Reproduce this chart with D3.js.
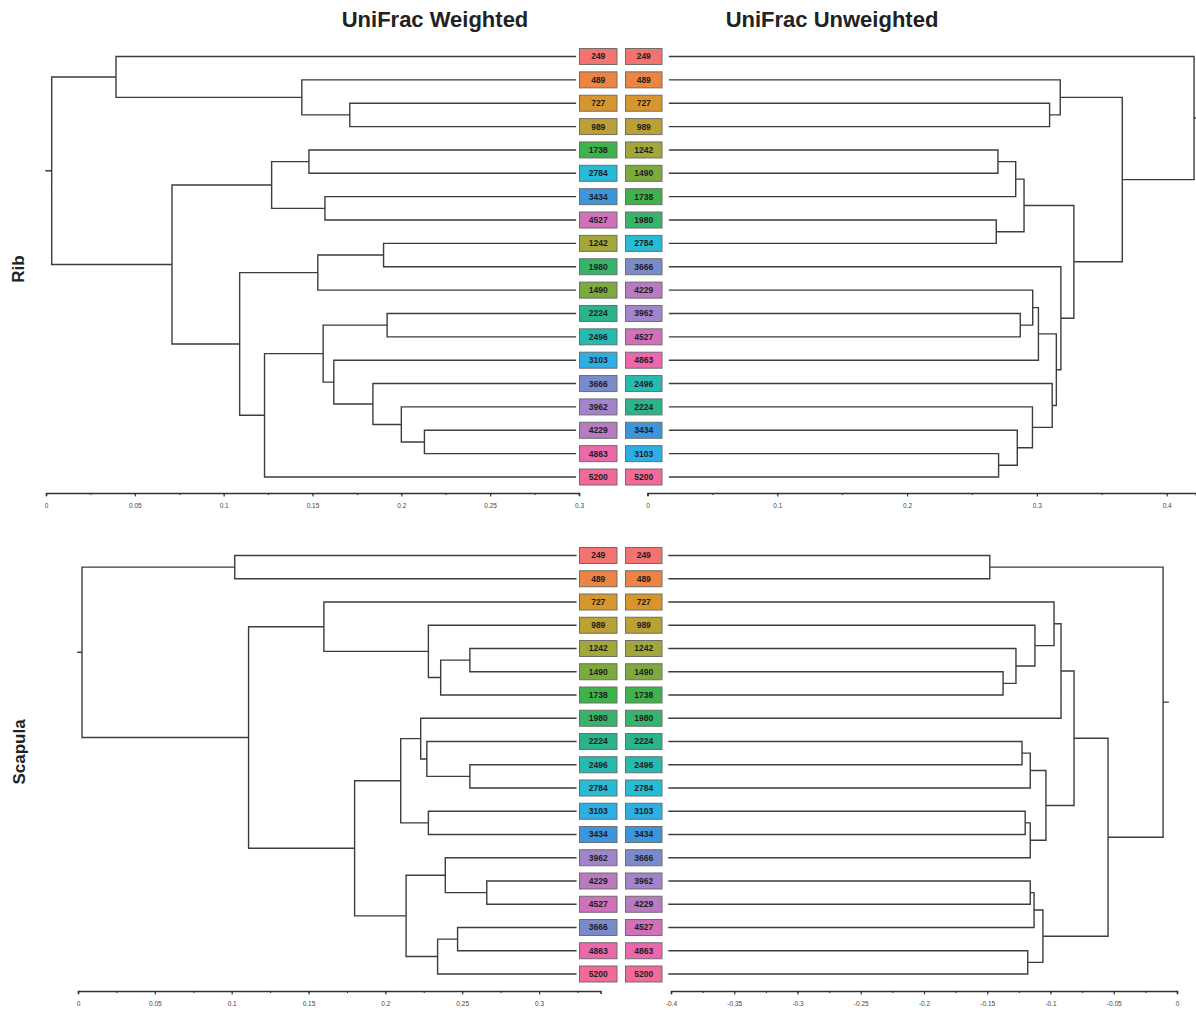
<!DOCTYPE html>
<html>
<head>
<meta charset="utf-8">
<script src="https://cdn.jsdelivr.net/npm/d3@7"></script>
<style>
  body { margin: 0; background: #fff; }
  svg { display: block; }
  text { font-family: "Liberation Sans", Arial, Helvetica, sans-serif; }
</style>
</head>
<body>
<svg id="chart" width="1196" height="1010"></svg>
<script>
// Samples (accumulated degree days) and their label colours
const samples = ["249", "489", "727", "989", "1242", "1490", "1738", "1980", "2224", "2496",
                 "2784", "3103", "3434", "3666", "3962", "4229", "4527", "4863", "5200"];
const sampleColors = ["#F2736F", "#EB8541", "#D7962D", "#BBA035", "#A2A63B", "#7DAA3D", "#3EB24B",
                      "#37B36B", "#2BB38B", "#27BAAE", "#26BCD5", "#2DAEE4", "#3D95DA", "#7B8ACA",
                      "#A184CA", "#B87BC0", "#D071BA", "#EB68AB", "#F2699A"];

// Dendrograms as nested [nodeHeight, child, child]; leaves are sample names.
const ribWeighted = [0.0032,
  [0.0394, "249", [0.144, "489", [0.171, "727", "989"]]],
  [0.0709,
    [0.127, [0.148, "1738", "2784"], [0.157, "3434", "4527"]],
    [0.109,
      [0.153, [0.190, "1242", "1980"], "1490"],
      [0.123,
        [0.156, [0.192, "2224", "2496"],
                [0.162, "3103", [0.184, "3666", [0.200, "3962", [0.213, "4229", "4863"]]]]],
        "5200"]]]];

const ribUnweighted = [0.4211, "249",
  [0.3658,
    [0.318, "489", [0.3098, "727", "989"]],
    [0.3285,
      [0.2901, [0.2837, [0.270, "1242", "1490"], "1738"], [0.2687, "1980", "2784"]],
      [0.3185, "3666",
        [0.315,
          [0.3012, [0.2968, "4229", [0.2872, "3962", "4527"]], "4863"],
          [0.3118, "2496", [0.2966, "2224", [0.2849, "3434", [0.2705, "3103", "5200"]]]]]]]]];

const scapulaWeighted = [0.0026,
  [0.102, "249", "489"],
  [0.111,
    [0.160, "727", [0.228, "989", [0.236, [0.255, "1242", "1490"], "1738"]]],
    [0.180,
      [0.210, [0.223, "1980", [0.227, "2224", [0.255, "2496", "2784"]]], [0.228, "3103", "3434"]],
      [0.2135, [0.239, "3962", [0.266, "4229", "4527"]], [0.234, [0.247, "3666", "4863"], "5200"]]]]];

const scapulaUnweighted = [-0.011,
  [-0.148, "249", "489"],
  [-0.0545,
    [-0.0814,
      [-0.0917, [-0.0972, "727", [-0.1123, "989", [-0.1273, "1242", [-0.1375, "1490", "1738"]]]], "1980"],
      [-0.1036, [-0.116, [-0.1225, "2224", "2496"], "2784"], [-0.116, [-0.120, "3103", "3434"], "3666"]]],
    [-0.106, [-0.113, [-0.116, "3962", "4229"], "4527"], [-0.118, "4863", "5200"]]]];

// Axis tick labels
const ribWeightedTicks = [0, 0.05, 0.1, 0.15, 0.2, 0.25, 0.3];
const ribUnweightedTicks = [0, 0.1, 0.2, 0.3, 0.4];
const scapulaWeightedTicks = [0, 0.05, 0.1, 0.15, 0.2, 0.25, 0.3];
const scapulaUnweightedTicks = [-0.4, -0.35, -0.3, -0.25, -0.2, -0.15, -0.1, -0.05, 0];

const columnTitles = ["UniFrac Weighted", "UniFrac Unweighted"];
const rowTitles = ["Rib", "Scapula"];

const color = d3.scaleOrdinal().domain(samples).range(sampleColors);
const svg = d3.select("#chart");
svg.append("rect").attr("width", 1196).attr("height", 1010).attr("fill", "#fff");

const panels = [
  { tree: ribWeighted, side: "left", leafH: 0.298, stubH: 0,
    domain: [0, 0.3], range: [46, 579], ticks: ribWeightedTicks, minorStep: 0.025,
    leafY: [56.5, 477], axisY: 493 },
  { tree: ribUnweighted, side: "right", leafH: 0.017, stubH: 0.4226,
    domain: [0, 0.4226], range: [647.5, 1196], ticks: ribUnweightedTicks, minorStep: 0.05,
    leafY: [56.5, 477], axisY: 493 },
  { tree: scapulaWeighted, side: "left", leafH: 0.324, stubH: 0,
    domain: [0, 0.34], range: [78, 600.5], ticks: scapulaWeightedTicks, minorStep: 0.025,
    leafY: [555.5, 974], axisY: 991 },
  { tree: scapulaUnweighted, side: "right", leafH: -0.4016, stubH: -0.007,
    domain: [-0.4, 0], range: [671, 1177], ticks: scapulaUnweightedTicks, minorStep: 0.025,
    leafY: [555.5, 974], axisY: 991 }
];

function leafOrder(node, out = []) {
  if (typeof node === "string") out.push(node);
  else node.slice(1).forEach(c => leafOrder(c, out));
  return out;
}

function build(node, yScale, leafH) {
  if (typeof node === "string") return { name: node, h: leafH, y: yScale(node) };
  const children = node.slice(1).map(c => build(c, yScale, leafH));
  return { h: node[0], children, y: d3.mean(children, c => c.y) };
}

const fmt = v => String(+v.toFixed(3));

panels.forEach(p => {
  const x = d3.scaleLinear().domain(p.domain).range(p.range);
  const order = leafOrder(p.tree);
  const y = d3.scalePoint().domain(order).range(p.leafY);
  const root = build(p.tree, y, p.leafH);

  // Elbow links
  const path = d3.path();
  (function walk(n) {
    if (!n.children) return;
    const ys = n.children.map(c => c.y);
    path.moveTo(x(n.h), d3.min(ys));
    path.lineTo(x(n.h), d3.max(ys));
    n.children.forEach(c => {
      path.moveTo(x(n.h), c.y);
      path.lineTo(x(c.h), c.y);
      walk(c);
    });
  })(root);
  path.moveTo(x(p.stubH), root.y);
  path.lineTo(x(root.h), root.y);

  svg.append("path")
    .attr("d", path.toString())
    .attr("fill", "none")
    .attr("stroke", "#3d3d3d")
    .attr("stroke-width", 1.4)
    .attr("stroke-linecap", "square");

  // Leaf label boxes
  const bx = p.side === "left" ? 579.5 : 625.5;
  const bw = p.side === "left" ? 37.5 : 36.5;
  const g = svg.append("g").selectAll("g").data(order).join("g")
    .attr("transform", d => `translate(${bx},${y(d)})`);
  g.append("rect")
    .attr("x", 0).attr("y", -8).attr("width", bw).attr("height", 16)
    .attr("fill", d => color(d))
    .attr("stroke", "#6e6e6e").attr("stroke-width", 1);
  g.append("text")
    .attr("x", bw / 2).attr("y", 0).attr("dy", "0.35em")
    .attr("text-anchor", "middle")
    .attr("font-size", 8.5).attr("font-weight", "bold")
    .attr("fill", "#1e1e1e")
    .text(d => d);

  // Axis: minor ticks then labelled major ticks
  const minor = d3.range(p.ticks[0], p.domain[1] + 1e-9, p.minorStep);
  const ax = svg.append("g").attr("transform", `translate(0,${p.axisY})`);
  ax.call(d3.axisBottom(x).tickValues(minor).tickSize(2).tickSizeOuter(3).tickFormat(""));
  ax.append("g").call(d3.axisBottom(x).tickValues(p.ticks).tickSize(3.5).tickSizeOuter(3)
      .tickPadding(7).tickFormat(fmt))
    .call(a => a.select(".domain").remove());
  ax.selectAll("path.domain").attr("stroke", "#333").attr("stroke-width", 1.6);
  ax.selectAll(".tick line").attr("stroke", "#333").attr("stroke-width", 1.1);
  ax.selectAll(".tick text")
    .attr("font-size", 6.5).attr("fill", "#444")
    .attr("font-family", "\"Liberation Sans\", Arial, sans-serif");
});

// Column and row titles
svg.selectAll("text.col").data(columnTitles).join("text")
  .attr("class", "col")
  .attr("x", (d, i) => [435, 832][i]).attr("y", 27)
  .attr("text-anchor", "middle")
  .attr("font-size", 22).attr("font-weight", "bold").attr("fill", "#222")
  .text(d => d);

svg.selectAll("text.row").data(rowTitles).join("text")
  .attr("class", "row")
  .attr("transform", (d, i) => `translate(${[24, 25][i]},${[269, 752][i]}) rotate(-90)`)
  .attr("text-anchor", "middle")
  .attr("font-size", 17).attr("font-weight", "bold").attr("fill", "#222")
  .text(d => d);
</script>
</body>
</html>
